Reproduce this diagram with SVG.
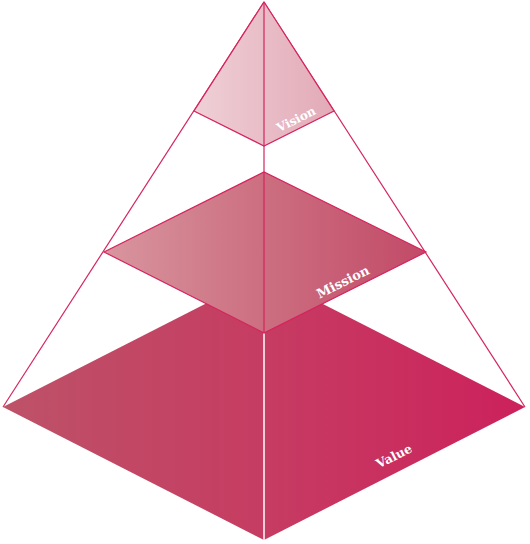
<svg xmlns="http://www.w3.org/2000/svg" width="530" height="544" viewBox="0 0 530 544">
<defs>
<linearGradient id="gVal" gradientUnits="userSpaceOnUse" x1="3" y1="0" x2="525" y2="0">
<stop offset="0" stop-color="#bd5268"/>
<stop offset="0.5" stop-color="#c63c62"/>
<stop offset="1" stop-color="#cc215c"/>
</linearGradient>
<linearGradient id="gMis" gradientUnits="userSpaceOnUse" x1="104" y1="0" x2="426" y2="0">
<stop offset="0" stop-color="#d8969f"/>
<stop offset="0.5" stop-color="#cc6e80"/>
<stop offset="1" stop-color="#c24a68"/>
</linearGradient>
<linearGradient id="gVis" gradientUnits="userSpaceOnUse" x1="194" y1="0" x2="334" y2="0">
<stop offset="0" stop-color="#efd0d7"/>
<stop offset="1" stop-color="#e2aab7"/>
</linearGradient>
</defs>
<style>
.edge{fill:none;stroke:#d4245e;stroke-width:1.2}
.lbl{font-family:"DejaVu Serif","Liberation Serif",serif;font-weight:bold;fill:#fff;text-anchor:middle}
</style>
<rect width="530" height="544" fill="#fff"/>
<g id="connectors">
<line class="edge" x1="264" y1="2" x2="3" y2="407"/>
<line class="edge" x1="264" y1="2" x2="525" y2="407"/>
<line class="edge" x1="264" y1="2" x2="264" y2="333"/>
</g>
<g id="value">
<polygon points="3,407 264,274 525,407 264,540" fill="url(#gVal)"/>
<line x1="264" y1="333" x2="264" y2="540" stroke="#fff" stroke-width="1.5"/>
<text class="lbl" font-size="12.5" transform="translate(396,460) rotate(-26.6)">Value</text>
</g>
<g id="mission">
<polygon points="104,252 264,172 426,252 264,333" fill="url(#gMis)" stroke="#d4245e" stroke-width="1.2"/>
<line class="edge" x1="264" y1="172" x2="264" y2="333"/>
<text class="lbl" font-size="13" transform="translate(345,286) rotate(-26.6)">Mission</text>
</g>
<g id="vision">
<polygon points="264,2 194,111 264,146 334,111" fill="url(#gVis)" stroke="#d4245e" stroke-width="1.2"/>
<line class="edge" x1="264" y1="2" x2="264" y2="146"/>
<text class="lbl" font-size="12" transform="translate(298,123) rotate(-26.6)">Vision</text>
</g>
</svg>
